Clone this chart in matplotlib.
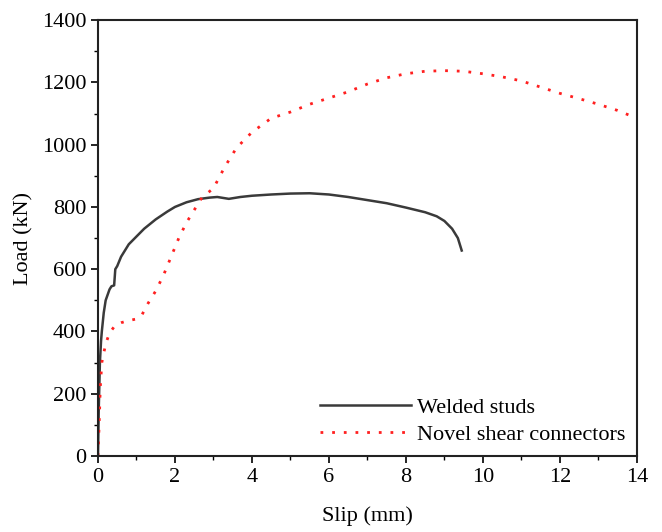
import matplotlib
matplotlib.use("Agg")
import matplotlib.pyplot as plt
from matplotlib.ticker import MultipleLocator

plt.rcParams['font.family'] = ['Liberation Serif', 'DejaVu Serif']

# Welded studs
welded_slip = [0.0, 0.02, 0.05, 0.08, 0.1, 0.15, 0.2, 0.3, 0.35, 0.42, 0.45, 0.5, 0.6, 0.8,
               1.0, 1.2, 1.5, 1.8, 2.0, 2.3, 2.6, 2.9, 3.1, 3.4, 3.7, 4.0, 4.5, 5.0, 5.5,
               6.0, 6.5, 7.0, 7.5, 8.0, 8.5, 8.8, 9.0, 9.2, 9.35, 9.45]
welded_load = [0, 150, 300, 370, 400, 460, 500, 535, 545, 548, 600, 610, 640, 680,
               705, 730, 760, 785, 800, 815, 825, 830, 832, 826, 832, 836, 840, 843, 844,
               840, 832, 822, 812, 798, 783, 770, 755, 730, 700, 660]

# Novel shear connectors
novel_slip = [0.0, 0.03, 0.06, 0.1, 0.15, 0.2, 0.3, 0.45, 0.6, 0.8, 1.0, 1.15, 1.3, 1.5,
              1.7, 1.9, 2.1, 2.3, 2.5, 2.7, 3.0, 3.3, 3.6, 4.0, 4.5, 5.0, 5.5, 6.0,
              6.5, 7.0, 7.5, 8.0, 8.5, 9.0, 9.5, 10.0, 10.5, 11.0, 11.5, 12.0, 12.5,
              13.0, 13.5, 13.9]
novel_load = [0, 100, 220, 300, 330, 360, 395, 420, 428, 435, 440, 455, 490, 530,
              580, 640, 700, 750, 790, 830, 860, 930, 990, 1040, 1085, 1105, 1130, 1150,
              1170, 1195, 1215, 1228, 1236, 1238, 1236, 1228, 1218, 1205, 1185, 1165, 1148,
              1130, 1110, 1090]

fig = plt.figure(figsize=(6.62, 5.32), dpi=100)
ax = fig.add_axes([0.148, 0.143, 0.814, 0.819])

ax.plot(welded_slip, welded_load, color='#3a3a3a', lw=1.8, label='Welded studs')
ax.plot(novel_slip, novel_load, color='#ff2020', lw=2.0, linestyle=(0, (1, 3.2)),
        label='Novel shear connectors')

ax.set_xlim(0, 14)
ax.set_ylim(0, 1400)
ax.xaxis.set_major_locator(MultipleLocator(2))
ax.xaxis.set_minor_locator(MultipleLocator(1))
ax.yaxis.set_major_locator(MultipleLocator(200))
ax.yaxis.set_minor_locator(MultipleLocator(100))
ax.tick_params(which='major', direction='out', length=5, width=1.2, labelsize=16)
ax.tick_params(which='minor', direction='out', length=3, width=1.0)
for s in ax.spines.values():
    s.set_linewidth(1.5)
    s.set_color('#222222')

ax.set_xlabel('Slip (mm)', fontsize=16, labelpad=14)
ax.set_ylabel('Load (kN)', fontsize=16, labelpad=6)

ax.legend(loc='lower right', frameon=False, fontsize=16, handlelength=4.1,
          handletextpad=0.3, borderaxespad=0.1, labelspacing=0.3)

fig.savefig('out.png', dpi=100)
